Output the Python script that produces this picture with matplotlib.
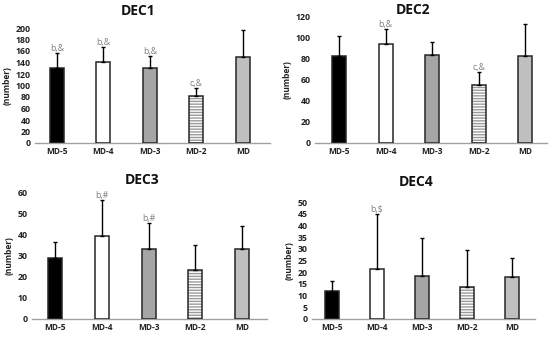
import matplotlib
matplotlib.use("Agg")
import matplotlib.pyplot as plt

categories = ["MD-5", "MD-4", "MD-3", "MD-2", "MD"]

dec1_mean = [131, 140, 130, 81, 150]
dec1_err = [26, 27, 22, 14, 46]
dec1_lab = ["b,&", "b,&", "b,&", "c,&", ""]

dec2_mean = [82, 94, 83, 55, 82]
dec2_err = [19, 14, 12, 12, 30]
dec2_lab = ["", "b,&", "", "c,&", ""]

dec3_mean = [29, 39, 33, 23, 33]
dec3_err = [7.5, 17, 12.5, 12, 11]
dec3_lab = ["", "b,#", "b,#", "", ""]

dec4_mean = [12, 21.5, 18.5, 13.5, 18]
dec4_err = [4.3, 23.5, 16, 16, 8]
dec4_lab = ["", "b,\\$", "", "", ""]

W, H = 550, 337
fig = plt.figure(figsize=(W / 100, H / 100), dpi=100)
plt.rcParams['font.family'] = ['Open Sans', 'DejaVu Sans']

fills = ["#000000", "#ffffff", "#a5a5a5", "#ffffff", "#bfbfbf"]

panels = [
    dict(title="DEC1", mean=dec1_mean, err=dec1_err, lab=dec1_lab,
         box=(35, 270, 28, 143), xlim=(-0.47, 4.58), ymax=200, step=20,
         tpos=(138, 11)),
    dict(title="DEC2", mean=dec2_mean, err=dec2_err, lab=dec2_lab,
         box=(315, 547, 16, 143), xlim=(-0.52, 4.47), ymax=120, step=20,
         tpos=(413, 10)),
    dict(title="DEC3", mean=dec3_mean, err=dec3_err, lab=dec3_lab,
         box=(32, 267, 192, 319), xlim=(-0.49, 4.53), ymax=60, step=10,
         tpos=(142, 180)),
    dict(title="DEC4", mean=dec4_mean, err=dec4_err, lab=dec4_lab,
         box=(312, 535, 202, 319), xlim=(-0.44, 4.51), ymax=50, step=5,
         tpos=(416, 182)),
]

for p in panels:
    l, r, t, b = p["box"]
    ax = fig.add_axes([l / W, 1 - b / H, (r - l) / W, (b - t) / H])
    x = list(range(len(categories)))
    for i in x:
        if i == 3:
            ax.bar(i, p["mean"][i], width=0.3, color="#ffffff",
                   edgecolor="#9a9a9a", hatch="------", linewidth=0, zorder=2)
        else:
            ax.bar(i, p["mean"][i], width=0.3, color=fills[i],
                   edgecolor="none", linewidth=0, zorder=2)
    ax.bar(x, p["mean"], width=0.3, color="none", edgecolor="#262626",
           linewidth=1.1, zorder=3)
    ax.errorbar(x, p["mean"], yerr=[[0] * 5, p["err"]], fmt="none",
                ecolor="#000000", elinewidth=1.0, capsize=1.5, capthick=1.0,
                zorder=4)
    for i in x:
        if p["lab"][i]:
            ax.text(i, p["mean"][i] + p["err"][i], p["lab"][i],
                    ha="center", va="bottom", fontsize=6.3, color="#7f7f7f")
    ax.set_xlim(*p["xlim"])
    ax.set_ylim(0, p["ymax"])
    ax.set_yticks(range(0, p["ymax"] + 1, p["step"]))
    ax.set_xticks(x)
    ax.set_xticklabels(categories)
    for s in ["top", "right", "left"]:
        ax.spines[s].set_visible(False)
    ax.spines["bottom"].set_color("#a0a0a0")
    ax.spines["bottom"].set_linewidth(1.0)
    ax.tick_params(length=0, pad=3, colors="#222222")
    ax.tick_params(axis="y", labelsize=6.3)
    ax.tick_params(axis="x", labelsize=6)
    for lab in ax.get_xticklabels() + ax.get_yticklabels():
        lab.set_fontweight("bold")
    ax.set_ylabel("(number)", fontsize=6, fontweight="bold", color="#222222",
                  labelpad=3)
    ax.patch.set_alpha(0)
    fig.text(p["tpos"][0] / W, 1 - p["tpos"][1] / H, p["title"],
             ha="center", va="center", fontsize=10, fontweight="bold",
             color="#111111")

fig.savefig("out.png", dpi=100, facecolor="white")
